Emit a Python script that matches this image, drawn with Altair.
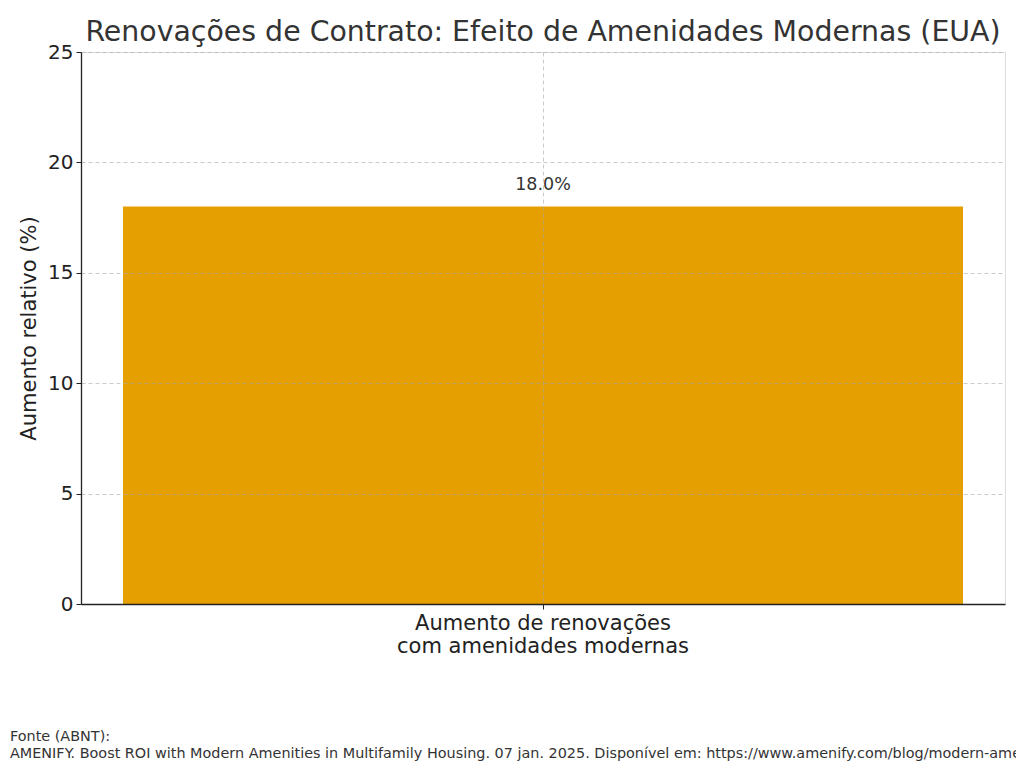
import altair as alt
import pandas as pd

categories = ["Aumento de renovações\ncom amenidades modernas"]
values = [18.0]
value_labels = ["18.0%"]
y_ticks = [0, 5, 10, 15, 20, 25]

title_text = "Renovações de Contrato: Efeito de Amenidades Modernas (EUA)"
footer_text = (
    "Fonte (ABNT):\n"
    "AMENIFY. Boost ROI with Modern Amenities in Multifamily Housing. 07 jan. 2025. "
    "Disponível em: https://www.amenify.com/blog/modern-amenities-multifamily-housing. Acesso em: 2025."
)

df = pd.DataFrame({"cat": categories, "val": values, "lab": value_labels})
foot = pd.DataFrame({"line": [footer_text]})

FONT = "DejaVu Sans"

x_enc = alt.X(
    "cat:N",
    title=None,
    sort=None,
    scale=alt.Scale(paddingInner=0, paddingOuter=0.05),
    axis=alt.Axis(
        labelAngle=0,
        labelFontSize=21,
        labelColor="#222222",
        labelFont=FONT,
        labelLineHeight=23,
        labelPadding=3,
        labelLimit=600,
        labelExpr="split(datum.label, '\\n')",
        ticks=True,
        tickSize=5,
        tickColor="#222222",
        bandPosition=0.5,
        tickExtra=False,
        domainColor="#222222",
        domainWidth=1.3,
        grid=True,
        gridColor="#a8a8a8",
        gridOpacity=0.6,
        gridDash=[4, 3],
        zindex=1,
    ),
)

y_enc = alt.Y(
    "val:Q",
    title="Aumento relativo (%)",
    scale=alt.Scale(domain=[0, 25], nice=False),
    axis=alt.Axis(
        values=y_ticks,
        labelFontSize=20,
        labelColor="#222222",
        labelFont=FONT,
        labelPadding=3,
        tickSize=5,
        tickColor="#222222",
        domainColor="#222222",
        domainWidth=1.3,
        titleFontSize=21,
        titleFont=FONT,
        titleFontWeight="normal",
        titleColor="#222222",
        titlePadding=8,
        grid=True,
        gridColor="#a8a8a8",
        gridOpacity=0.6,
        gridDash=[4, 3],
        zindex=1,
    ),
)

bars = alt.Chart(df).mark_bar(color="#E69F00").encode(x=x_enc, y=y_enc)

labels = alt.Chart(df).mark_text(
    fontSize=17.5, font=FONT, color="#333333", baseline="bottom", dy=-13
).encode(x=alt.X("cat:N", sort=None), y="val:Q", text="lab:N")

footer = alt.Chart(foot).mark_text(
    fontSize=14.4,
    font=FONT,
    color="#333333",
    align="left",
    baseline="middle",
    lineBreak="\n",
    lineHeight=17,
).encode(
    x=alt.value(-71),
    y=alt.value(685),
    text="line:N",
)

chart = (
    alt.layer(bars, labels, footer)
    .properties(
        width=924,
        height=552,
        autosize=alt.AutoSizeParams(type="none"),
        padding={"left": 73, "top": 44, "right": 11, "bottom": 158},
        title=alt.TitleParams(
            title_text,
            fontSize=28.4,
            font=FONT,
            fontWeight="normal",
            color="#333333",
            anchor="middle",
            frame="group",
            offset=-5,
        ),
    )
    .configure_view(stroke="transparent", strokeWidth=0)
    .configure(background="white")
)

chart.save("out.html", embed_options={"renderer": "svg", "actions": False})
